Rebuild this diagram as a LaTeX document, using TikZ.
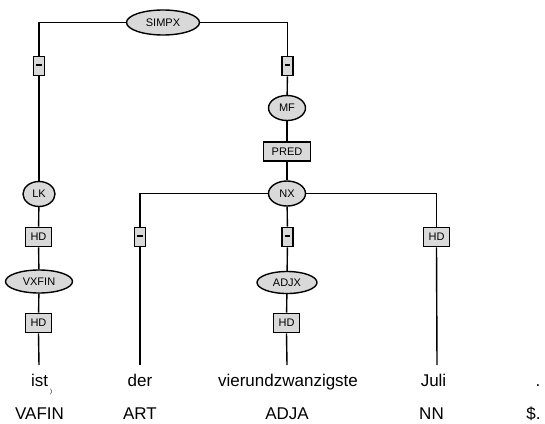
\documentclass[tikz,border=0pt]{standalone}
\usepackage{fontspec}
\setmainfont{Liberation Sans}
\usetikzlibrary{shapes.geometric}
\definecolor{nodegray}{gray}{0.85}
\begin{document}
\begin{tikzpicture}[x=1pt,y=-1pt,
  catnode/.style={ellipse,draw=black,line width=1.4pt,fill=nodegray,inner sep=0pt,font=\fontsize{11}{12}\selectfont},
  edgebox/.style={rectangle,draw=black,line width=1.6pt,fill=nodegray,inner sep=0pt,minimum height=19pt,font=\fontsize{11}{12}\selectfont},
  dashbox/.style={edgebox,minimum width=11pt},
  labbox/.style={edgebox,minimum width=26pt},
  word/.style={anchor=base,inner sep=0pt,font=\fontsize{17}{20}\selectfont},
  conn/.style={line width=1.4pt,black}]
\useasboundingbox (0,0) rectangle (545,423);
% nodes
\node[catnode,minimum width=73pt,minimum height=25pt] (simpx) at (163,22.5) {SIMPX};
\node[dashbox] (d1) at (39,66) {\rule[3pt]{5.5pt}{2pt}};
\node[dashbox] (d2) at (287.5,66) {\rule[3pt]{5.5pt}{2pt}};
\node[catnode,minimum width=37pt,minimum height=25pt] (mf) at (287,108) {MF};
\node[edgebox,minimum width=47pt] (pred) at (287,151.5) {PRED};
\node[catnode,minimum width=37pt,minimum height=25pt] (nx) at (287,193.5) {NX};
\node[catnode,minimum width=32pt,minimum height=25pt] (lk) at (39,194) {LK};
\node[labbox] (hd1) at (38.5,237) {HD};
\node[catnode,minimum width=67pt,minimum height=23pt] (vxfin) at (39,281.5) {VXFIN};
\node[labbox] (hd2) at (38.5,323) {HD};
\node[dashbox] (d3) at (140,237) {\rule[3pt]{5.5pt}{2pt}};
\node[dashbox] (d4) at (287.5,237) {\rule[3pt]{5.5pt}{2pt}};
\node[catnode,minimum width=60pt,minimum height=22pt] (adjx) at (287,282.5) {ADJX};
\node[labbox] (hd3) at (286.5,323) {HD};
\node[labbox] (hd4) at (436.5,237) {HD};
% words
\node[word] (w1) at (39.5,386) {ist};
\node[inner sep=0pt,font=\fontsize{6}{7}\selectfont] (w1s) at (51,392) {)};
\node[word] (w2) at (140,386) {der};
\node[word] (w3) at (288,386) {vierundzwanzigste};
\node[word] (w4) at (433.5,386) {Juli};
\node[word] (w5) at (538,386) {.};
\node[word] (t1) at (39.5,419) {VAFIN};
\node[word] (t2) at (140,419) {ART};
\node[word] (t3) at (287,419) {ADJA};
\node[word] (t4) at (431.5,419) {NN};
\node[word] (t5) at (533.5,419) {\$.};
% free ends
\coordinate (e1) at (39,365);
\coordinate (e2) at (140,365);
\coordinate (e3) at (287,365);
\coordinate (e4) at (437,365);
% connectors
\draw[conn] (simpx.west) -| (d1);
\draw[conn] (simpx.east) -| (d2);
\draw[conn] (d1) -- (lk);
\draw[conn] (d2) -- (mf);
\draw[conn] (mf) -- (pred);
\draw[conn] (pred) -- (nx);
\draw[conn] (lk) -- (hd1);
\draw[conn] (hd1) -- (vxfin);
\draw[conn] (vxfin) -- (hd2);
\draw[conn] (hd2.south) -- (e1);
\draw[conn] (nx.west) -| (d3);
\draw[conn] (nx.east) -| (hd4);
\draw[conn] (nx) -- (d4);
\draw[conn] (d4) -- (adjx);
\draw[conn] (adjx) -- (hd3);
\draw[conn] (hd3.south) -- (e3);
\draw[conn] (d3.south) -- (e2);
\draw[conn] (hd4.south) -- (e4);
\end{tikzpicture}
\end{document}
